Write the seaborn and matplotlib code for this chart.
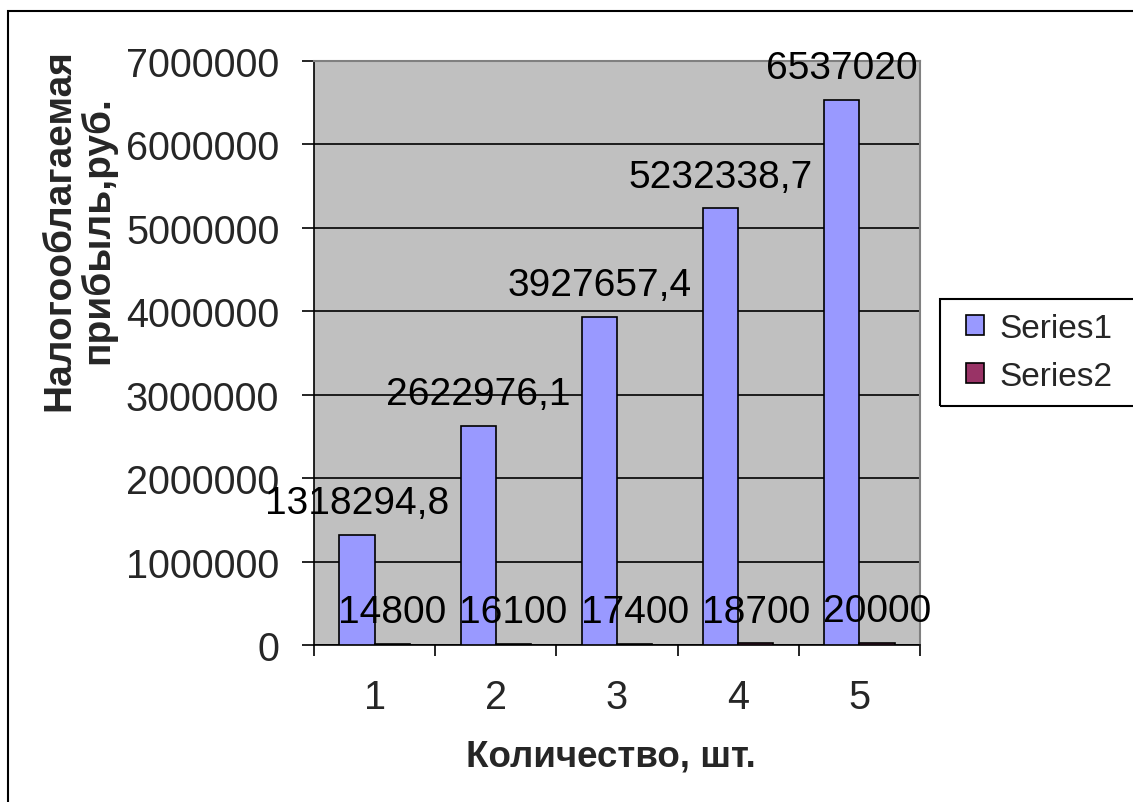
import matplotlib
matplotlib.use("Agg")
import matplotlib.pyplot as plt
from matplotlib.patches import Rectangle
import seaborn as sns
import pandas as pd
import numpy as np

categories = ["1", "2", "3", "4", "5"]
series1 = [1318294.8, 2622976.1, 3927657.4, 5232338.7, 6537020]
series2 = [14800, 16100, 17400, 18700, 20000]
series_names = ["Series1", "Series2"]
y_ticks = [0, 1000000, 2000000, 3000000, 4000000, 5000000, 6000000, 7000000]

df = pd.DataFrame({
    "cat": categories * 2,
    "value": series1 + series2,
    "series": [series_names[0]] * 5 + [series_names[1]] * 5,
})

sns.set_theme(style="white")
plt.rcParams["font.family"] = ["Liberation Sans", "DejaVu Sans"]

W, H = 1133, 803
fig = plt.figure(figsize=(W / 100, H / 100), dpi=100)
fig.patch.set_facecolor("white")

# plot area in pixel coordinates
x0, x1, y0, y1 = 314, 920, 62, 646
ax = fig.add_axes([x0 / W, 1 - y1 / H, (x1 - x0) / W, (y1 - y0) / H])
ax.set_facecolor("#C0C0C0")

colors = ["#9999FF", "#993366"]
sns.barplot(data=df, x="cat", y="value", hue="series", palette=colors,
            width=0.58, edgecolor="black", linewidth=1.2, errorbar=None,
            saturation=1, ax=ax, zorder=3)

ax.set_ylim(0, 7000000)
ax.set_xlim(-0.5, 4.5)
ax.set_yticks(y_ticks)
ax.set_yticklabels([str(t) for t in y_ticks])
ax.yaxis.grid(True, color="black", linewidth=1.2, zorder=1)
ax.set_axisbelow(True)

# x ticks sit between categories; labels centred under each group
ax.set_xticks(np.arange(-0.5, 5.0, 1.0), minor=True)
ax.tick_params(axis="x", which="major", length=0, pad=24, labelsize=28.5)
ax.tick_params(axis="x", which="minor", length=8, width=1.2, color="black",
               direction="out", bottom=True)
ax.tick_params(axis="y", which="major", length=9, width=1.2, color="black",
               direction="out", left=True, pad=16, labelsize=28.5)

for side in ["left", "bottom"]:
    ax.spines[side].set_color("black")
    ax.spines[side].set_linewidth(1.2)
for side in ["top", "right"]:
    ax.spines[side].set_color("#808080")
    ax.spines[side].set_linewidth(1.5)

def fmt(v):
    if float(v).is_integer():
        return str(int(v))
    return f"{v:.1f}".replace(".", ",")

for cont, vals in zip(ax.containers, [series1, series2]):
    ax.bar_label(cont, labels=[fmt(v) for v in vals], padding=10,
                 fontsize=28, color="black", zorder=5)

ax.set_xlabel("")
ax.set_ylabel("")
fig.text(611 / W, 1 - 757 / H, "Количество, шт.", ha="center", va="center",
         fontsize=26.5, fontweight="bold")
fig.text(79 / W, 1 - 230 / H, "Налогооблагаемая\nприбыль,руб.", ha="center",
         va="center", rotation=90, fontsize=28, fontweight="bold",
         linespacing=1.05, multialignment="center")

handles, labels = ax.get_legend_handles_labels()
ax.legend(handles, labels, loc="center left",
          bbox_to_anchor=(966 / W, 1 - 353.5 / H), bbox_transform=fig.transFigure,
          frameon=False, fontsize=24, handlelength=0.55, handleheight=0.55,
          handletextpad=0.45, borderpad=0, borderaxespad=0, labelspacing=0.5)

# legend box runs off the right edge of the canvas
fig.patches.append(Rectangle((940 / W, 1 - 407 / H), 220 / W, 107 / H,
                             transform=fig.transFigure, fill=False,
                             edgecolor="black", linewidth=1.5))
# outer chart border (right and bottom sides lie beyond the canvas)
fig.patches.append(Rectangle((8 / W, 1 - 820 / H), 1150 / W, 808 / H,
                             transform=fig.transFigure, fill=False,
                             edgecolor="black", linewidth=1.5))

fig.savefig("out.png", dpi=100)
